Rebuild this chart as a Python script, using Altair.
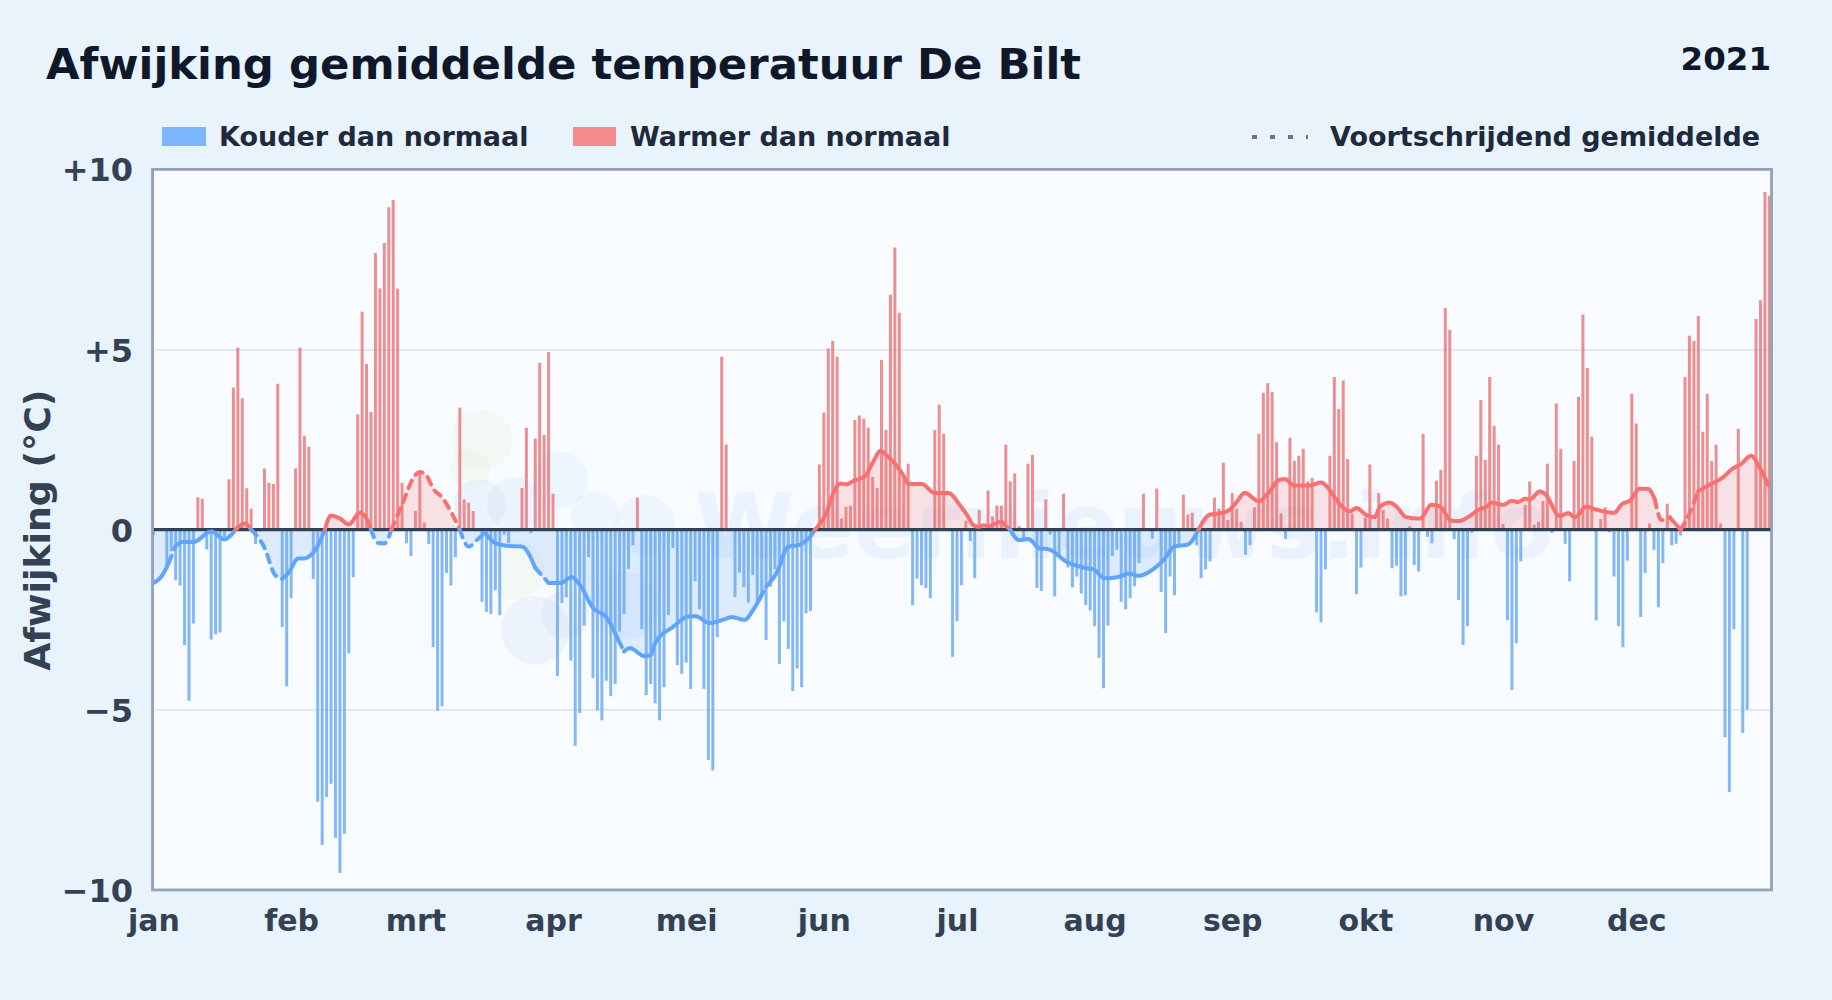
import altair as alt
import pandas as pd

month_names = ["jan","feb","mrt","apr","mei","jun","jul","aug","sep","okt","nov","dec"]
month_days = [0,31,59,90,120,151,181,212,243,273,304,334]
y_ticks = [-10,-5,0,5,10]

anomaly = [
-0.15,0,0,-1.1,-0.6,-1.4,-1.55,-3.2,-4.75,-2.6,
0.9,0.86,-0.55,-3.05,-2.9,-2.85,-0.2,1.4,3.95,5.05,
3.65,1.15,0.58,-0.4,-0.05,1.7,1.3,1.27,4.05,-2.7,
-4.35,-1.9,1.7,5.05,2.6,2.3,-1.37,-7.55,-8.75,-7.42,
-7.05,-8.55,-9.53,-8.44,-3.43,-1.32,3.2,6.05,4.6,3.27,
7.68,6.7,7.96,8.95,9.15,6.69,1.3,-0.38,-0.73,0.52,
1.62,0.2,-0.4,-3.26,-5.03,-4.9,-1.2,-1.55,-0.76,3.39,
0.84,0.75,0.52,0,-2.0,-2.28,-2.34,-1.68,-2.37,-0.14,
-0.37,0,0,1.16,2.83,-0.1,2.53,4.63,2.63,4.93,
1.0,-4.06,-2.04,-1.88,-3.63,-6.0,-5.09,-2.66,-0.76,-4.12,
-5.01,-5.29,-4.19,-4.62,-4.28,-2.83,-2.34,-1.09,-0.43,0.89,
-2.76,-4.59,-4.28,-4.82,-5.29,-4.37,-2.37,-0.51,-3.76,-4.0,
-3.69,-4.42,-1.43,-2.21,-4.42,-6.39,-6.68,-2.98,4.8,2.36,
0,-1.87,-1.19,-1.6,-2.02,-1.26,-1.98,-1.85,-3.06,-1.58,
-1.1,-3.73,-2.54,-3.31,-4.48,-3.85,-4.37,-2.32,-2.26,0,
1.81,3.25,5.03,5.24,4.8,0.31,0.64,0.67,3.05,3.17,
3.08,2.83,1.47,1.16,4.71,2.77,6.52,7.83,6.02,1.4,
1.83,-2.09,-1.36,-1.54,-1.62,-1.9,2.77,3.47,2.66,0,
-3.53,-2.54,-1.54,0.25,-0.31,-1.35,0.55,0,1.09,0.37,
0.67,0.67,2.36,1.34,1.56,0.1,-0.34,1.83,2.08,-1.62,
-1.7,0.84,-0.13,-1.85,-0.76,1.0,-1.05,-1.6,-1.3,-1.77,
-2.09,-2.24,-2.68,-3.56,-4.4,-2.66,-0.73,-0.56,-2.0,-2.21,
-1.9,-1.57,-0.93,1.0,0,-0.25,1.14,-1.73,-2.87,-1.3,
-1.82,-0.4,0.97,0.42,0.47,-0.43,-1.35,-1.1,-0.88,0.89,
0.58,1.86,0.27,1.02,0.58,0.22,-0.7,-0.43,0.62,2.66,
3.8,4.07,3.82,2.43,0.45,-0.26,2.55,1.91,2.05,2.25,
1.34,1.44,-2.29,-2.57,-1.1,2.05,4.24,3.35,4.14,1.96,
0.45,-1.79,-1.05,0.34,1.81,0,1.02,0.55,0.31,-1.07,
-1.0,-1.85,-1.82,0.1,-0.98,-1.16,2.66,-0.2,-0.38,1.36,
1.66,6.15,5.55,-0.26,-1.95,-3.2,-2.68,-0.08,2.05,3.6,
1.94,4.24,2.88,2.36,0.16,-2.51,-4.45,-3.15,-0.88,0.69,
1.34,0.14,0.22,0.8,1.83,-0.09,3.5,2.25,-0.39,-1.43,
1.91,3.69,5.97,4.49,2.58,-2.51,0.3,0.62,-0.07,-1.3,
-2.68,-3.26,-0.86,3.77,2.95,-2.42,-1.2,0.17,-0.56,-2.15,
-0.93,0.72,-0.43,-0.39,-0.16,4.24,5.38,5.24,5.93,2.72,
3.77,1.91,2.36,0.17,-5.76,-7.28,-2.76,2.8,-5.64,-4.99,
0,5.85,6.37,9.37,9.27]
assert len(anomaly) == 365

avg_days = [0,2,3.4,5,6.7,9,13,16,17.2,18.5,20.6,22,25,27.4,29,30.4,32.6,33.7,36.4,38.6,40,42,44,46.5,48,49,50.6,52,53.6,56,59,60,61.4,63,65,69,71,73,74.7,77,80,83,86,89,91.6,94.2,96,99,102,104.7,106,107.3,110.7,112,113,117,120.5,122,125.3,128.3,130.2,133.2,135,136.6,138,140.4,143,145.2,148.6,149,151.7,153.2,154.7,156,157.8,160.3,162.1,163.8,165,169,170,173,176,179,181.9,183.2,184.6,185.8,187,188,191,191.9,193,195,197,199.7,201.5,205.7,209.8,211.7,214.3,217.7,219.6,222,224.4,227.4,230,233,235.4,238,240,242.4,244,245.8,249,251,253.7,254.9,257,260.5,263,264.6,267.2,269.5,271,273.2,275.1,276.3,278.5,280,282.2,285.3,287.9,289.8,292.4,294,296.5,298.4,300.3,301.4,304,306,307.4,309,310,312.3,313.4,316.8,318.7,320.2,322.8,325,329,330.8,332.6,334.8,336.7,338.2,339.7,341.6,344,346,347.9,349.8,353.5,355.8,357.6,359.9,361.7,363.8]
avg_values = [-1.48,-1.26,-0.93,-0.45,-0.34,-0.34,-0.05,-0.27,-0.18,0,0.17,0,-0.5,-1.26,-1.36,-1.2,-0.8,-0.8,-0.57,0,0.39,0.31,0.15,0.47,0.31,0,-0.37,-0.38,0,0.7,1.52,1.6,1.52,1.14,0.9,0,-0.47,-0.27,-0.08,-0.37,-0.45,-0.47,-1.06,-1.48,-1.48,-1.32,-1.52,-2.17,-2.43,-3.06,-3.38,-3.29,-3.51,-3.48,-3.15,-2.7,-2.41,-2.4,-2.59,-2.5,-2.43,-2.5,-2.24,-1.91,-1.58,-1.19,-0.47,-0.43,-0.08,0,0.51,1.03,1.28,1.26,1.36,1.49,1.88,2.19,2.08,1.49,1.27,1.27,1.02,1.02,0.64,0.42,0.14,0.08,0.12,0.1,0.22,0.12,0,-0.29,-0.26,-0.52,-0.54,-0.89,-1.06,-1.1,-1.35,-1.3,-1.22,-1.28,-1.16,-0.86,-0.47,-0.41,0,0.42,0.45,0.55,0.77,1.02,0.79,1.0,1.39,1.4,1.23,1.23,1.31,1.16,0.71,0.51,0.6,0.41,0.35,0.64,0.75,0.64,0.35,0.31,0.69,0.64,0.25,0.24,0.38,0.55,0.64,0.75,0.69,0.8,0.77,0.86,0.84,1.06,1.0,0.38,0.46,0.35,0.64,0.56,0.47,0.71,0.81,1.14,1.13,0.84,0.27,0.34,0,0.45,1.06,1.2,1.45,1.7,1.82,2.05,1.75,1.23]
assert len(avg_days) == len(avg_values)

dash_ranges = [(3,5),(22,29),(49,69),(69,75),(85,89),(104.5,106.5),(136.5,138.5),(338,342),(345,348.5),(363,365)]

logo_blobs = [(482,440,30,"#d6ebb8"),(470,470,20,"#d6ebb8"),(480,505,26,"#a9c6ea"),(515,505,28,"#a9c6ea"),(560,480,28,"#a8d4f8"),(595,515,24,"#a8d4f8"),(645,525,30,"#a8d4f8"),
              (535,630,34,"#a9c6ea"),(565,615,24,"#a9c6ea"),(515,570,30,"#d6ebb8"),(625,605,34,"#a8d4f8")]

BG = "#e8f3fc"
PX0, PY0 = 152.6, 169.4
PW, PH = 1619, 720.6
INK = "#0f172a"
SLATE = "#1e293b"
AXIS = "#334155"
FONT = "DejaVu Sans"
BLUE = "#60a5fa"
RED = "#f87171"
BAR_BLUE = "#5ea2f0"
BAR_RED = "#ea6a6c"

bars = pd.DataFrame({"day": range(365), "anomaly": anomaly})
bars["kind"] = ["warm" if v > 0 else "cold" for v in anomaly]

avg = pd.DataFrame({"day": avg_days, "value": avg_values})
avg["pos"] = avg["value"].clip(lower=0)
avg["neg"] = avg["value"].clip(upper=0)

rows, seg, prev = [], 0, None
for (d0, v0), (d1, v1) in zip(zip(avg_days, avg_values), zip(avg_days[1:], avg_values[1:])):
    mid = (d0 + d1) / 2
    kind = "warm" if (v0 + v1) > 0 else "cold"
    style = "dash" if any(a <= mid <= b for a, b in dash_ranges) else "solid"
    if (kind, style) != prev:
        seg += 1
        prev = (kind, style)
        rows.append({"day": d0, "value": v0, "seg": seg, "kind": kind, "style": style})
    rows.append({"day": d1, "value": v1, "seg": seg, "kind": kind, "style": style})
segments = pd.DataFrame(rows)

x_scale = alt.Scale(domain=[-0.2, 364.5], nice=False, zero=False, padding=0)
y_scale = alt.Scale(domain=[-10, 10], nice=False)
color_scale = alt.Scale(domain=["cold", "warm"], range=[BLUE, RED])
bar_scale = alt.Scale(domain=["cold", "warm"], range=[BAR_BLUE, BAR_RED])

label_expr = "[" + ",".join(f"'{m}'" for m in month_names) + "][indexof([" + ",".join(map(str, month_days)) + "],datum.value)]"
x_axis = alt.Axis(values=month_days, labelExpr=label_expr, title=None, grid=False, domain=False, ticks=False,
                  labelFont=FONT, labelFontSize=30, labelFontWeight="bold", labelColor=AXIS, labelPadding=17,
                  labelAngle=0, labelAlign="center", labelFlush=False, labelOverlap=False, labelBound=False)
y_axis = alt.Axis(values=y_ticks, labelExpr="datum.value > 0 ? '+' + datum.value : datum.value < 0 ? '\u2212' + abs(datum.value) : '0'",
                  title="Afwijking (\u00b0C)", grid=True, gridColor="#e2e8f0", gridWidth=2, domain=False, ticks=False,
                  labelFont=FONT, labelFontSize=32, labelFontWeight="bold", labelColor=AXIS, labelPadding=20, labelOffset=1.5,
                  labelBound=False, labelOverlap=False, labelFlush=False,
                  titleFont=FONT, titleFontSize=36.3, titleFontWeight="bold", titleColor=AXIS,
                  titleX=-114, titleY=PH / 2, titleAnchor="middle", titleAlign="center", titleBaseline="middle")

def text(t, px, py, size, color, align="left", weight="bold", opacity=1.0):
    return alt.Chart(pd.DataFrame({"t": [t]})).mark_text(
        font=FONT, fontSize=size, fontWeight=weight, color=color, align=align, baseline="middle", opacity=opacity
    ).encode(x=alt.value(px - PX0), y=alt.value(py - PY0), text="t:N")

def swatch(x0, x1, y0, y1, color):
    return alt.Chart(pd.DataFrame({"a": [0]})).mark_rect(color=color, opacity=0.8).encode(
        x=alt.value(x0 - PX0), x2=alt.value(x1 - PX0), y=alt.value(y0 - PY0), y2=alt.value(y1 - PY0))

base = alt.Chart(bars)
blobs = [alt.Chart(pd.DataFrame({"a": [0]})).mark_point(filled=True, shape="circle", size=(2 * r) ** 2, color=c, opacity=0.14, stroke=None).encode(
    x=alt.value(px - PX0), y=alt.value(py - PY0)) for px, py, r, c in logo_blobs]
watermark = text("Weernieuws.info", 1124, 531, 91, "#3b82f6", align="center", opacity=0.07)

area_pos = alt.Chart(avg).mark_area(color=RED, opacity=0.18, clip=True, interpolate="monotone").encode(
    x=alt.X("day:Q", scale=x_scale, axis=x_axis), y=alt.Y("pos:Q", scale=y_scale, axis=y_axis), y2=alt.Y2(datum=0))
area_neg = alt.Chart(avg).mark_area(color=BLUE, opacity=0.18, clip=True, interpolate="monotone").encode(
    x=alt.X("day:Q", scale=x_scale), y=alt.Y("neg:Q", scale=y_scale), y2=alt.Y2(datum=0))
bar_layer = base.mark_bar(size=3, opacity=0.75, clip=True).encode(
    x=alt.X("day:Q", scale=x_scale), y=alt.Y("anomaly:Q", scale=y_scale), y2=alt.Y2(datum=0),
    color=alt.Color("kind:N", scale=bar_scale, legend=None))
zero = alt.Chart(pd.DataFrame({"z": [0]})).mark_rule(color=AXIS, strokeWidth=3.2).encode(y=alt.Y("z:Q", scale=y_scale))
line = alt.Chart(segments).mark_line(strokeWidth=4, strokeCap="round", strokeJoin="round", clip=True, interpolate="monotone").encode(
    x=alt.X("day:Q", scale=x_scale), y=alt.Y("value:Q", scale=y_scale),
    detail="seg:N", order="day:Q",
    color=alt.Color("kind:N", scale=color_scale, legend=None),
    strokeDash=alt.StrokeDash("style:N", scale=alt.Scale(domain=["solid", "dash"], range=[[1, 0], [8, 7]]), legend=None))

frame = alt.Chart(pd.DataFrame({"a": [0]})).mark_rect(fillOpacity=0, stroke="#94a3b8", strokeWidth=2.6).encode(
    x=alt.value(0), x2=alt.value(PW), y=alt.value(0), y2=alt.value(PH))

legend_dots = alt.Chart(pd.DataFrame({"a": [0]})).mark_rule(color="#64748b", strokeWidth=4, strokeDash=[5, 13]).encode(
    x=alt.value(1252 - PX0), x2=alt.value(1308 - PX0), y=alt.value(137 - PY0))

chart = alt.layer(
    *blobs, watermark, area_pos, area_neg, bar_layer, zero, line, frame,
    swatch(162, 206, 127, 146, BLUE), text("Kouder dan normaal", 219, 138, 27, SLATE),
    swatch(573, 616, 127, 146, RED), text("Warmer dan normaal", 630, 138, 27, SLATE),
    legend_dots, text("Voortschrijdend gemiddelde", 1330, 138, 27, SLATE),
    text("Afwijking gemiddelde temperatuur De Bilt", 46, 66, 43.4, INK),
    text("2021", 1771, 60, 32.5, INK, align="right"),
).resolve_scale(color="independent").properties(
    width=PW, height=PH,
    background=BG,
    padding={"left": PX0 - 8, "top": PY0 - 8, "right": 44, "bottom": 94},
    autosize=alt.AutoSizeParams(type="none"),
).configure_view(fill="#f8fbff", stroke="#94a3b8", strokeWidth=2.5)

chart.save("out.html", embed_options={"renderer": "svg", "actions": False, "defaultStyle": "body{background:#e8f3fc}"})
